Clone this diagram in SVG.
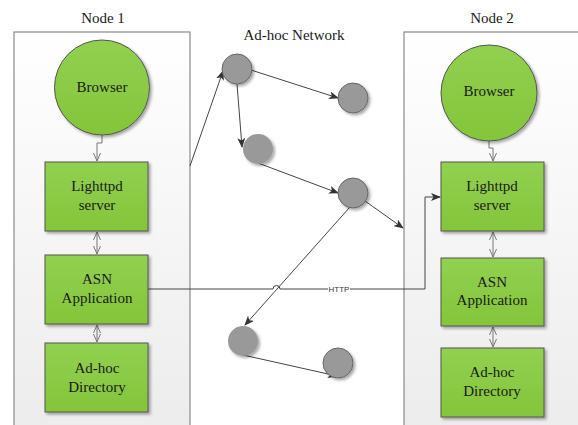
<svg xmlns="http://www.w3.org/2000/svg" width="578" height="425" viewBox="0 0 578 425">
<defs>
<linearGradient id="cont" x1="0" y1="0" x2="0" y2="1">
<stop offset="0" stop-color="#ffffff"/>
<stop offset="1" stop-color="#ececec"/>
</linearGradient>
<linearGradient id="green" x1="0" y1="0" x2="0" y2="1">
<stop offset="0" stop-color="#92d050"/>
<stop offset="1" stop-color="#84c53a"/>
</linearGradient>
<filter id="sh" x="-30%" y="-30%" width="170%" height="170%">
<feGaussianBlur in="SourceAlpha" stdDeviation="1.5"/>
<feOffset dx="1.5" dy="1.5"/>
<feComponentTransfer><feFuncA type="linear" slope="0.35"/></feComponentTransfer>
<feMerge><feMergeNode/><feMergeNode in="SourceGraphic"/></feMerge>
</filter>
<marker id="ah" markerWidth="10" markerHeight="8" refX="9" refY="4" orient="auto" markerUnits="userSpaceOnUse">
<path d="M0,0 L10,4 L0,8 L2.5,4 Z" fill="#333"/>
</marker>
<marker id="oa" markerWidth="10" markerHeight="8" refX="9" refY="4" orient="auto-start-reverse" markerUnits="userSpaceOnUse">
<path d="M1,0.5 L9,4 L1,7.5" fill="none" stroke="#777" stroke-width="1"/>
</marker>
</defs>
<style>
.cont{fill:url(#cont);stroke:#8a8a8a;stroke-width:1.2}
.box{fill:url(#green);stroke:#555;stroke-width:1;filter:url(#sh)}
.t{font-family:"Liberation Serif","Times New Roman",serif;font-size:15px;fill:#1a1a1a;text-anchor:middle}
.gn{fill:#999;stroke:#666;stroke-width:1;filter:url(#sh)}
.gs{fill:#999;filter:url(#sh)}
.ln{fill:none;stroke:#444;stroke-width:1}
.dl{fill:none;stroke:#777;stroke-width:1}
.http{font-family:"Liberation Sans",Arial,sans-serif;font-size:8px;fill:#333;text-anchor:middle}
</style>
<rect width="578" height="425" fill="#fff"/>
<g id="node1">
<rect class="cont" x="14" y="32" width="176" height="400"/>
<text class="t" x="103" y="23">Node 1</text>
</g>
<g id="node2">
<rect class="cont" x="404" y="32" width="185" height="400"/>
<text class="t" x="492" y="23">Node 2</text>
</g>
<text class="t" x="294" y="40">Ad-hoc Network</text>
<g id="connectors">
<path class="dl" d="M102,135 V143 H97 V161" marker-end="url(#oa)"/>
<path class="dl" d="M97,232 V254" marker-start="url(#oa)" marker-end="url(#oa)"/>
<path class="dl" d="M97,325 V342" marker-start="url(#oa)" marker-end="url(#oa)"/>
<path class="dl" d="M489,141 V148 H493 V161" marker-end="url(#oa)"/>
<path class="dl" d="M493,232 V257" marker-start="url(#oa)" marker-end="url(#oa)"/>
<path class="dl" d="M493,327 V347" marker-start="url(#oa)" marker-end="url(#oa)"/>
<path class="ln" d="M148,289 H273 A3.5,3.5 0 0 1 280,289 H425 V197 H440" marker-end="url(#ah)"/>
<rect x="328" y="285" width="22" height="8" fill="#fff"/>
<text class="http" x="339" y="292">HTTP</text>
<path class="ln" d="M190,166 L223,71" marker-end="url(#ah)"/>
<path class="ln" d="M251,70 L338,98" marker-end="url(#ah)"/>
<path class="ln" d="M237,84 L242,147" marker-end="url(#ah)"/>
<path class="ln" d="M258,163 L338,193" marker-end="url(#ah)"/>
<path class="ln" d="M365,201 L403,228" marker-end="url(#ah)"/>
<path class="ln" d="M350,207 L245,325" marker-end="url(#ah)"/>
<path class="ln" d="M243,355 L337,376" marker-end="url(#ah)"/>
</g>
<g id="browser1"><circle class="box" cx="102" cy="87.5" r="47.5"/><text class="t" x="102" y="92">Browser</text></g>
<g id="lighttpd1"><rect class="box" x="45" y="162" width="103" height="69"/><text class="t" x="97" y="191">Lighttpd</text><text class="t" x="97" y="210">server</text></g>
<g id="asn1"><rect class="box" x="45" y="255" width="103" height="69"/><text class="t" x="97" y="284">ASN</text><text class="t" x="97" y="303">Application</text></g>
<g id="dir1"><rect class="box" x="45" y="343" width="103" height="69"/><text class="t" x="97" y="373">Ad-hoc</text><text class="t" x="97" y="392">Directory</text></g>
<g id="browser2"><circle class="box" cx="489" cy="93" r="48"/><text class="t" x="489" y="96">Browser</text></g>
<g id="lighttpd2"><rect class="box" x="441" y="162" width="103" height="69"/><text class="t" x="492" y="191">Lighttpd</text><text class="t" x="492" y="210">server</text></g>
<g id="asn2"><rect class="box" x="441" y="258" width="103" height="68"/><text class="t" x="492" y="287">ASN</text><text class="t" x="492" y="305">Application</text></g>
<g id="dir2"><rect class="box" x="441" y="348" width="103" height="69"/><text class="t" x="492" y="377">Ad-hoc</text><text class="t" x="492" y="396">Directory</text></g>
<g id="nA"><circle class="gn" cx="237" cy="69" r="15"/></g>
<g id="nB"><circle class="gn" cx="353" cy="98" r="15"/></g>
<g id="nC"><circle class="gs" cx="258" cy="149" r="15"/></g>
<g id="nD"><circle class="gn" cx="353" cy="193" r="15"/></g>
<g id="nE"><circle class="gs" cx="243" cy="341" r="15"/></g>
<g id="nF"><circle class="gn" cx="338" cy="363" r="15"/></g>
</svg>
